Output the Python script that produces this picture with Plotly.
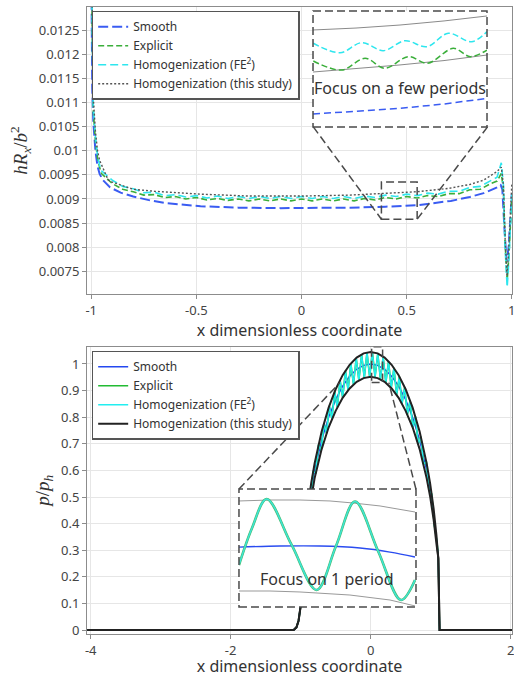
import plotly.graph_objects as go

# ---------------- TOP PANEL DATA (hR_x / b^2) ----------------
top_x_smooth = [-1.0, -0.995, -0.99, -0.98, -0.97, -0.96, -0.944, -0.91, -0.86, -0.80, -0.72, -0.64,
                -0.48, -0.30, -0.10, 0.10, 0.23, 0.40, 0.55, 0.71, 0.80, 0.866, 0.93, 0.947, 0.955,
                0.965, 0.975, 0.985, 0.993, 1.0]
top_smooth = [0.0140, 0.0113, 0.0106, 0.0100, 0.00968, 0.00952, 0.00939, 0.00924, 0.00913, 0.00905,
              0.00897, 0.00891, 0.00885, 0.00882, 0.00881, 0.00881, 0.00882, 0.00884, 0.00887, 0.00896,
              0.00904, 0.00912, 0.00924, 0.00929, 0.0092, 0.0084, 0.0077, 0.0080, 0.0087, 0.0091]

top_x_wave = [-1.0, -0.995, -0.99, -0.98, -0.97, -0.96, -0.95,
              -0.90, -0.85, -0.80, -0.75, -0.70, -0.65, -0.60, -0.55, -0.50, -0.45, -0.40, -0.35,
              -0.30, -0.25, -0.20, -0.15, -0.10, -0.05, 0.00, 0.05, 0.10, 0.15, 0.20, 0.25, 0.30,
              0.35, 0.40, 0.45, 0.50, 0.55, 0.60, 0.65, 0.70, 0.75, 0.80, 0.85, 0.90,
              0.93, 0.95, 0.96, 0.968, 0.978, 0.986, 0.993, 1.0]
top_explicit = [0.0142, 0.0116, 0.0108, 0.0102, 0.00985, 0.00965, 0.00952,
                0.00932, 0.00920, 0.00915, 0.00908, 0.00909, 0.00903, 0.00905, 0.00900, 0.00903,
                0.00898, 0.00901, 0.00897, 0.00900, 0.00896, 0.00900, 0.00896, 0.00900, 0.00896,
                0.00900, 0.00896, 0.00900, 0.00896, 0.00900, 0.00896, 0.00901, 0.00898, 0.00903,
                0.00900, 0.00905, 0.00902, 0.00907, 0.00905, 0.00911, 0.00911, 0.00919, 0.00920,
                0.00932,
                0.00937, 0.00953, 0.0092, 0.0081, 0.0073, 0.0078, 0.0086, 0.0090]
top_fe2 = [0.0143, 0.0117, 0.0109, 0.0103, 0.0099, 0.0097, 0.00958,
           0.00939, 0.00926, 0.00921, 0.00913, 0.00914, 0.00907, 0.00909, 0.00904, 0.00907,
           0.00902, 0.00906, 0.00901, 0.00905, 0.00901, 0.00905, 0.00901, 0.00905, 0.00901,
           0.00905, 0.00901, 0.00905, 0.00901, 0.00905, 0.00901, 0.00906, 0.00903, 0.00908,
           0.00905, 0.00910, 0.00907, 0.00912, 0.00910, 0.00916, 0.00916, 0.00924, 0.00926,
           0.00938,
           0.00945, 0.00975, 0.0093, 0.0080, 0.00717, 0.0077, 0.0086, 0.0091]

top_x_study = [-1.0, -0.995, -0.99, -0.98, -0.97, -0.96, -0.95, -0.92, -0.90, -0.85, -0.80, -0.70,
               -0.60, -0.48, -0.25, 0.0, 0.23, 0.40, 0.55, 0.70, 0.80, 0.866, 0.93, 0.95, 0.96,
               0.968, 0.977, 0.985, 0.993, 1.0]
top_study = [0.0145, 0.0120, 0.0111, 0.0104, 0.0100, 0.0098, 0.0097, 0.0094, 0.00935, 0.00927,
             0.0092, 0.00916, 0.00913, 0.0091, 0.00906, 0.00906, 0.00908, 0.00911, 0.00915, 0.00922,
             0.0093, 0.00939, 0.00957, 0.00966, 0.0093, 0.0082, 0.0074, 0.0079, 0.0088, 0.0093]

top_xticks = [-1, -0.5, 0, 0.5, 1]
top_xtick_text = ["-1", "-0.5", "0", "0.5", "1"]
top_yticks = [0.0075, 0.008, 0.0085, 0.009, 0.0095, 0.01, 0.0105, 0.011, 0.0115, 0.012, 0.0125]
top_ytick_text = ["0.0075", "0.008", "0.0085", "0.009", "0.0095", "0.01", "0.0105", "0.011",
                  "0.0115", "0.012", "0.0125"]

# top inset ("Focus on a few periods")
ti_fe2_x = [0.3803, 0.4064, 0.4276, 0.4487, 0.4699, 0.4911, 0.5122, 0.5350, 0.55]
ti_fe2_y = [0.009136, 0.009073, 0.009140, 0.009087, 0.009153, 0.009113, 0.009202, 0.009146, 0.009213]
ti_exp_x = [0.3803, 0.4080, 0.4308, 0.4503, 0.4731, 0.4920, 0.5171, 0.5337, 0.55]
ti_exp_y = [0.009018, 0.008958, 0.009036, 0.008970, 0.009047, 0.009003, 0.009102, 0.009047, 0.009091]
ti_line_x = [0.38, 0.422, 0.465, 0.508, 0.55]
ti_upper_y = [0.009224, 0.009237, 0.009257, 0.009284, 0.009317]
ti_lower_y = [0.008945, 0.008968, 0.008992, 0.009021, 0.009058]
ti_smooth_y = [0.008666, 0.008683, 0.008704, 0.008733, 0.008770]

# ---------------- BOTTOM PANEL DATA (p / p_h) ----------------
env_x = [-4.05, -1.10, -1.06, -1.03, -1.0, -0.97, -0.94, -0.90, -0.85, -0.80, -0.70, -0.60, -0.50,
         -0.40, -0.30, -0.20, -0.10, 0.0, 0.10, 0.20, 0.30, 0.40, 0.50, 0.60, 0.70, 0.80, 0.85,
         0.90, 0.94, 0.967, 0.985, 2.02]
env_upper = [0, 0, 0.01, 0.035, 0.09, 0.254, 0.357, 0.456, 0.551, 0.627, 0.746, 0.836, 0.905,
             0.958, 0.997, 1.024, 1.040, 1.045, 1.040, 1.024, 0.997, 0.958, 0.905, 0.836, 0.746,
             0.627, 0.551, 0.456, 0.357, 0.27, 0.0, 0.0]
env_lower = [0, 0, 0.01, 0.035, 0.09, 0.231, 0.325, 0.415, 0.502, 0.571, 0.680, 0.762, 0.824,
             0.873, 0.908, 0.933, 0.947, 0.952, 0.947, 0.933, 0.908, 0.873, 0.824, 0.762, 0.680,
             0.571, 0.502, 0.415, 0.325, 0.27, 0.0, 0.0]
smooth_p = [0, 0, 0.01, 0.035, 0.09, 0.243, 0.341, 0.436, 0.527, 0.600, 0.714, 0.800, 0.866,
            0.917, 0.954, 0.980, 0.995, 1.0, 0.995, 0.980, 0.954, 0.917, 0.866, 0.800, 0.714,
            0.600, 0.527, 0.436, 0.341, 0.27, 0.0, 0.0]

# oscillating pressure (Explicit and FE2 coincide at this scale): extrema
osc_x = [-4.05, -1.10, -1.06, -1.03, -1.0,
         -0.976, -0.938, -0.899, -0.861, -0.822, -0.784, -0.745, -0.707, -0.668, -0.630, -0.591,
         -0.553, -0.514, -0.476, -0.437, -0.399, -0.360, -0.322, -0.283, -0.245, -0.206, -0.168,
         -0.129, -0.091, -0.052, -0.014, 0.025, 0.063, 0.102, 0.140, 0.179, 0.217, 0.256, 0.294,
         0.333, 0.371, 0.410, 0.448, 0.487, 0.525, 0.564, 0.602, 0.641, 0.679, 0.718, 0.756,
         0.795, 0.833, 0.872, 0.910, 0.949,
         0.967, 0.985, 2.02]
osc_p = [0, 0, 0.01, 0.035, 0.09,
         0.2275, 0.3301, 0.4576, 0.4842, 0.5951, 0.5909, 0.6971, 0.6733, 0.7777, 0.7393, 0.8430,
         0.7932, 0.8964, 0.8372, 0.9399, 0.8730, 0.9750, 0.9014, 1.0023, 0.9230, 1.0226, 0.9385,
         1.0363, 0.9480, 1.0435, 0.9519, 1.0447, 0.9501, 1.0396, 0.9427, 1.0282, 0.9293, 1.0102,
         0.9099, 0.9853, 0.8840, 0.9531, 0.8511, 0.9127, 0.8102, 0.8630, 0.7602, 0.8020, 0.6990,
         0.7273, 0.6232, 0.6339, 0.5267, 0.5115, 0.3947, 0.3295,
         0.27, 0.0, 0.0]

bot_xticks = [-4, -2, 0, 2]
bot_xtick_text = ["-4", "-2", "0", "2"]
bot_yticks = [0, 0.1, 0.2, 0.3, 0.4, 0.5, 0.6, 0.7, 0.8, 0.9, 1]
bot_ytick_text = ["0", "0.1", "0.2", "0.3", "0.4", "0.5", "0.6", "0.7", "0.8", "0.9", "1"]

# bottom inset ("Focus on 1 period")
bi_osc_x = [0.01, 0.0218, 0.0350, 0.0576, 0.0802, 0.0977, 0.1149, 0.1357, 0.1564, 0.1691]
bi_osc_y = [0.978, 1.0204, 1.0536, 1.001, 0.9495, 0.9998, 1.0507, 0.9941, 0.938, 0.9609]
bi_upper_x = [0.01, 0.038, 0.0651, 0.0923, 0.1131, 0.1375, 0.1691]
bi_upper_y = [1.0513, 1.0524, 1.0524, 1.0513, 1.049, 1.0456, 1.0387]
bi_lower_x = [0.01, 0.038, 0.0651, 0.1103, 0.1465, 0.1691]
bi_lower_y = [0.9483, 0.9483, 0.9472, 0.9437, 0.938, 0.9312]
bi_smooth_x = [0.01, 0.0471, 0.0832, 0.1194, 0.1465, 0.1691]
bi_smooth_y = [0.9986, 0.9998, 0.9998, 0.9975, 0.9929, 0.9872]

# ---------------- STYLE ----------------
BLUE = "#3a5cf2"
GREEN = "#3aae3a"
CYAN = "#2ee6ee"
GRAY = "#555555"
FONT = "Noto Sans"

fig = go.Figure()

# top main
fig.add_trace(go.Scatter(x=top_x_smooth, y=top_smooth, name="Smooth", mode="lines",
                         line=dict(color=BLUE, width=2, dash="10px,4px"), xaxis="x", yaxis="y",
                         legend="legend"))
fig.add_trace(go.Scatter(x=top_x_wave, y=top_explicit, name="Explicit", mode="lines",
                         line=dict(color=GREEN, width=1.6, dash="6px,3px"), xaxis="x", yaxis="y",
                         legend="legend"))
fig.add_trace(go.Scatter(x=top_x_wave, y=top_fe2, name="Homogenization (FE<sup>2</sup>)", mode="lines",
                         line=dict(color=CYAN, width=1.6, dash="8px,4px"), xaxis="x", yaxis="y",
                         legend="legend"))
fig.add_trace(go.Scatter(x=top_x_study, y=top_study, name="Homogenization (this study)", mode="lines",
                         line=dict(color=GRAY, width=1.4, dash="2px,2px"), xaxis="x", yaxis="y",
                         legend="legend"))

# top inset
fig.add_trace(go.Scatter(x=ti_line_x + [None] + ti_line_x, y=ti_upper_y + [None] + ti_lower_y,
                         mode="lines", line=dict(color="#8a8a8a", width=1), xaxis="x3", yaxis="y3",
                         showlegend=False, hoverinfo="skip"))
fig.add_trace(go.Scatter(x=ti_fe2_x, y=ti_fe2_y, mode="lines", line=dict(color=CYAN, width=1.5,
                         dash="6px,3px", shape="spline"), xaxis="x3", yaxis="y3", showlegend=False))
fig.add_trace(go.Scatter(x=ti_exp_x, y=ti_exp_y, mode="lines", line=dict(color=GREEN, width=1.5,
                         dash="6px,3px", shape="spline"), xaxis="x3", yaxis="y3", showlegend=False))
fig.add_trace(go.Scatter(x=ti_line_x, y=ti_smooth_y, mode="lines", line=dict(color=BLUE, width=1.5,
                         dash="7px,4px"), xaxis="x3", yaxis="y3", showlegend=False))

# bottom main
fig.add_trace(go.Scatter(x=env_x, y=smooth_p, name="Smooth", mode="lines",
                         line=dict(color="#2448f0", width=1.4), xaxis="x2", yaxis="y2", legend="legend2"))
fig.add_trace(go.Scatter(x=osc_x, y=osc_p, name="Explicit", mode="lines",
                         line=dict(color="#22bb33", width=1.6), xaxis="x2", yaxis="y2", legend="legend2"))
fig.add_trace(go.Scatter(x=osc_x, y=osc_p, name="Homogenization (FE<sup>2</sup>)", mode="lines",
                         line=dict(color="#22eef0", width=1.4), xaxis="x2", yaxis="y2", legend="legend2"))
fig.add_trace(go.Scatter(x=env_x + [None] + env_x, y=env_upper + [None] + env_lower,
                         name="Homogenization (this study)", mode="lines",
                         line=dict(color="#222222", width=2.0), xaxis="x2", yaxis="y2", legend="legend2"))

# bottom inset
fig.add_trace(go.Scatter(x=bi_upper_x + [None] + bi_lower_x, y=bi_upper_y + [None] + bi_lower_y,
                         mode="lines", line=dict(color="#999999", width=1), xaxis="x4", yaxis="y4",
                         showlegend=False, hoverinfo="skip"))
fig.add_trace(go.Scatter(x=bi_smooth_x, y=bi_smooth_y, mode="lines",
                         line=dict(color="#2a4cf0", width=1.3, shape="spline"),
                         xaxis="x4", yaxis="y4", showlegend=False))
fig.add_trace(go.Scatter(x=bi_osc_x, y=bi_osc_y, mode="lines",
                         line=dict(color="#49b86a", width=2.6, shape="spline"),
                         xaxis="x4", yaxis="y4", showlegend=False))
fig.add_trace(go.Scatter(x=bi_osc_x, y=bi_osc_y, mode="lines",
                         line=dict(color="#3ee6d6", width=1.5, shape="spline"),
                         xaxis="x4", yaxis="y4", showlegend=False))

axis_common = dict(showline=True, linecolor="#8c8c8c", linewidth=1, mirror=True, ticks="outside",
                   ticklen=4, tickcolor="#8c8c8c", showgrid=True, gridcolor="#e6e6e6",
                   zeroline=False, automargin=False, ticklabeloverflow="allow",
                   tickfont=dict(family=FONT, size=13, color="#444444"))

ytitle_font = dict(family="Liberation Serif", size=19, color="#333333")
xtitle_font = dict(family=FONT, size=16, color="#333333")

legend_common = dict(bgcolor="white", bordercolor="#555555", borderwidth=1.5,
                     font=dict(family=FONT, size=12, color="#333333"),
                     itemwidth=30, xanchor="left", yanchor="top", tracegroupgap=0)

dash_line = dict(color="#4a4a4a", width=1.5, dash="8px,4px")

fig.update_layout(
    width=514, height=677,
    margin=dict(l=87, r=2, t=7, b=43),
    paper_bgcolor="white", plot_bgcolor="white",
    font=dict(family=FONT, color="#333333"),
    xaxis=dict(domain=[0, 1], anchor="y", range=[-1.02, 1.001], tickvals=top_xticks,
               ticktext=top_xtick_text,
               title=dict(text="x dimensionless coordinate", font=xtitle_font, standoff=4),
               **axis_common),
    yaxis=dict(domain=[0.5423, 1], anchor="x", range=[0.00703, 0.01298], tickvals=top_yticks,
               ticktext=top_ytick_text,
               title=dict(text="<i>hR</i><sub><i>x</i></sub>/<i>b</i><sup>2</sup>", font=ytitle_font,
                          standoff=6),
               **axis_common),
    xaxis2=dict(domain=[0, 1], anchor="y2", range=[-4.053, 2.02], tickvals=bot_xticks,
                ticktext=bot_xtick_text,
                title=dict(text="x dimensionless coordinate", font=xtitle_font, standoff=7),
                **axis_common),
    yaxis2=dict(domain=[0, 0.4582], anchor="x2", range=[-0.015, 1.065], tickvals=bot_yticks,
                ticktext=bot_ytick_text,
                title=dict(text="<i>p</i>/<i>p</i><sub><i>h</i></sub>", font=ytitle_font, standoff=6),
                **axis_common),
    xaxis3=dict(domain=[0.5318, 0.9412], anchor="y3", range=[0.38, 0.55], visible=False),
    yaxis3=dict(domain=[0.8086, 0.9936], anchor="x3", range=[0.00858, 0.00935], visible=False),
    xaxis4=dict(domain=[0.3576, 0.7741], anchor="y4", range=[0.01, 0.17], visible=False),
    yaxis4=dict(domain=[0.04306, 0.23126], anchor="x4", range=[0.93, 1.065], visible=False),
    legend=dict(x=0.011, y=0.994, **legend_common),
    legend2=dict(x=0.011, y=0.4517, **legend_common),
    shapes=[
        # top: zoom window, inset frame, connectors
        dict(type="rect", xref="x", yref="y", x0=0.38, x1=0.55, y0=0.00858, y1=0.00935, line=dash_line),
        dict(type="rect", xref="x3 domain", yref="y3 domain", x0=0, x1=1, y0=0, y1=1, line=dash_line),
        dict(type="line", xref="x", yref="y", x0=0.0562, y0=0.010494, x1=0.38, y1=0.00858, line=dash_line),
        dict(type="line", xref="x", yref="y", x0=0.8848, y0=0.010494, x1=0.55, y1=0.00858, line=dash_line),
        # bottom: zoom window, inset frame, connectors
        dict(type="rect", xref="x2", yref="y2", x0=0.014, x1=0.171, y0=0.93, y1=1.065, line=dash_line),
        dict(type="rect", xref="x4 domain", yref="y4 domain", x0=0, x1=1, y0=0, y1=1, line=dash_line),
        dict(type="line", xref="x2", yref="y2", x0=-1.881, y0=0.530, x1=-0.44, y1=0.93, line=dash_line),
        dict(type="line", xref="x2", yref="y2", x0=0.647, y0=0.530, x1=0.26, y1=0.93, line=dash_line),
    ],
    annotations=[
        dict(text="Focus on a few periods", xref="x3 domain", yref="y3 domain", x=0.5, y=0.336,
             showarrow=False, font=dict(family=FONT, size=16, color="#333333")),
        dict(text="Focus on 1 period", xref="x4 domain", yref="y4 domain", x=0.497, y=0.127,
             showarrow=False, font=dict(family=FONT, size=16, color="#333333")),
    ],
)

fig.write_html("out.html", config={"displayModeBar": False},
               post_script="document.body.style.margin='0';")
